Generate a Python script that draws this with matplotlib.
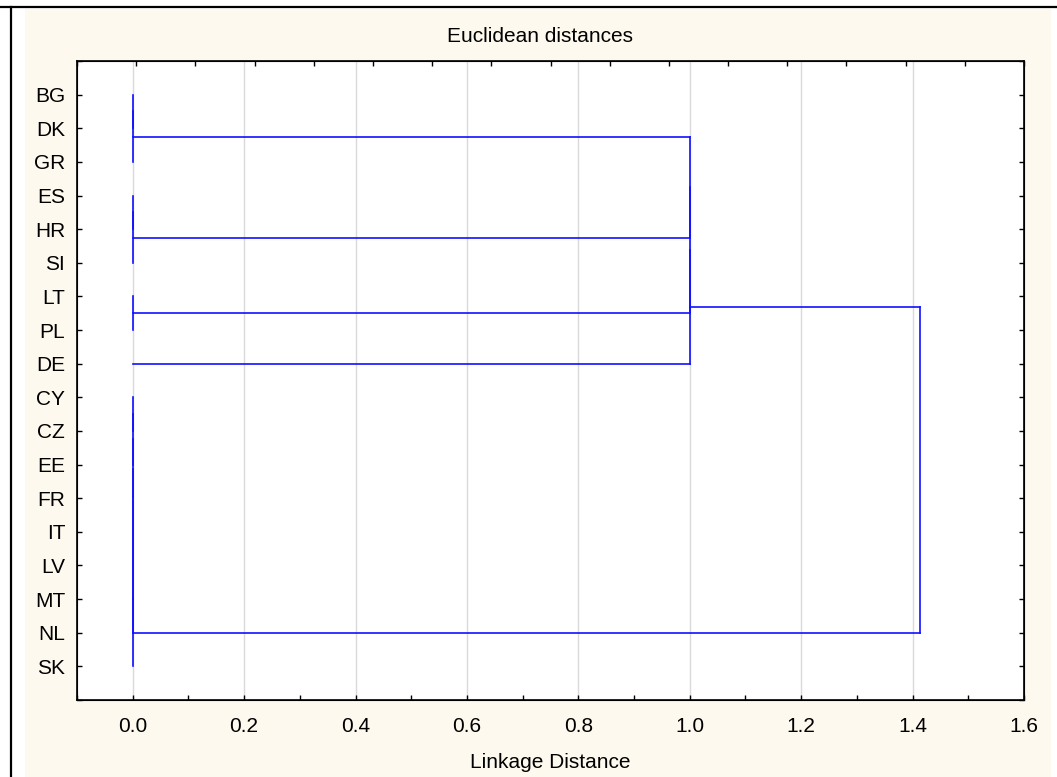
import matplotlib.pyplot as plt
from matplotlib.patches import Rectangle
from matplotlib.lines import Line2D
from matplotlib.ticker import MultipleLocator

plt.rcParams['font.family'] = ['Liberation Sans', 'DejaVu Sans']

# Leaves in the order shown on the tree (top to bottom)
leaves = ['BG', 'DK', 'GR', 'ES', 'HR', 'SI', 'LT', 'PL', 'DE',
          'CY', 'CZ', 'EE', 'FR', 'IT', 'LV', 'MT', 'NL', 'SK']

# Joining steps, scipy style: ids >= len(leaves) are earlier joins
join_a = [0, 18, 3, 20, 6, 9, 23, 24, 25, 26, 27, 28, 29, 19, 31, 32, 33]
join_b = [1, 2, 4, 5, 7, 10, 11, 12, 13, 14, 15, 16, 17, 21, 22, 8, 30]
join_dist = [0.0, 0.0, 0.0, 0.0, 0.0, 0.0, 0.0, 0.0, 0.0, 0.0, 0.0, 0.0, 0.0,
             1.0, 1.0, 1.0, 1.414]

x_ticks = [0.0, 0.2, 0.4, 0.6, 0.8, 1.0, 1.2, 1.4, 1.6]

cream = '#fef9ee'
line_col = '#1010ff'

fig = plt.figure(figsize=(10.57, 7.77), dpi=100, facecolor='white')
W, H = 1057, 777

# background panel and frame lines
fig.patches.append(Rectangle((25 / W, 0), (1051 - 25) / W, (H - 9) / H,
                             transform=fig.transFigure, facecolor=cream,
                             edgecolor='none', zorder=-10))
fig.lines.append(Line2D([0, 1], [1 - 7 / H, 1 - 7 / H], transform=fig.transFigure,
                        color='black', lw=1.6, zorder=-5))
fig.lines.append(Line2D([11 / W, 11 / W], [0, 1 - 7 / H], transform=fig.transFigure,
                        color='black', lw=1.6, zorder=-5))

ax = fig.add_axes([77 / W, 1 - 700 / H, (1024 - 77) / W, (700 - 61) / H])
ax.set_facecolor('white')

# positions and heights of every node
pos = [i + 1 for i in range(len(leaves))]
height = [0.0] * len(leaves)
for a, b, d in zip(join_a, join_b, join_dist):
    ax.plot([height[a], d], [pos[a], pos[a]], color=line_col, lw=1.2, zorder=3)
    ax.plot([height[b], d], [pos[b], pos[b]], color=line_col, lw=1.2, zorder=3)
    ax.plot([d, d], [pos[a], pos[b]], color=line_col, lw=1.2, zorder=3)
    pos.append((pos[a] + pos[b]) / 2)
    height.append(d)

ax.set_xlim(-0.1, 1.6)
ax.set_ylim(len(leaves) + 1, 0)
ax.set_xticks(x_ticks)
ax.set_xticklabels([f'{v:.1f}' for v in x_ticks])
ax.xaxis.set_minor_locator(MultipleLocator(0.1))
ax.set_yticks(range(len(leaves) + 2))
ax.set_yticklabels([''] + leaves + [''])

ax.grid(axis='x', which='major', color='#d9d9d9', lw=1.0, zorder=1)
ax.set_axisbelow(True)
ax.tick_params(axis='x', which='both', direction='in', length=3.5, width=1,
               labelsize=15, pad=12, top=False)
ax.tick_params(axis='y', direction='in', length=3.5, width=1,
               labelsize=15, pad=8.5, right=True)
for s in ax.spines.values():
    s.set_linewidth(1.2)

# top ticks split the frame into 16 equal parts
top = ax.twiny()
top.set_xlim(0, 16)
top.set_xticks(range(17))
top.tick_params(axis='x', direction='in', length=3.5, width=1,
                labeltop=False, top=True, bottom=False)

fig.text(540 / W, 1 - 42 / H, 'Euclidean distances', ha='center',
         va='baseline', fontsize=15)
fig.text(550 / W, 1 - 768 / H, 'Linkage Distance', ha='center',
         va='baseline', fontsize=15)

fig.savefig('out.png', dpi=100, facecolor=fig.get_facecolor())
